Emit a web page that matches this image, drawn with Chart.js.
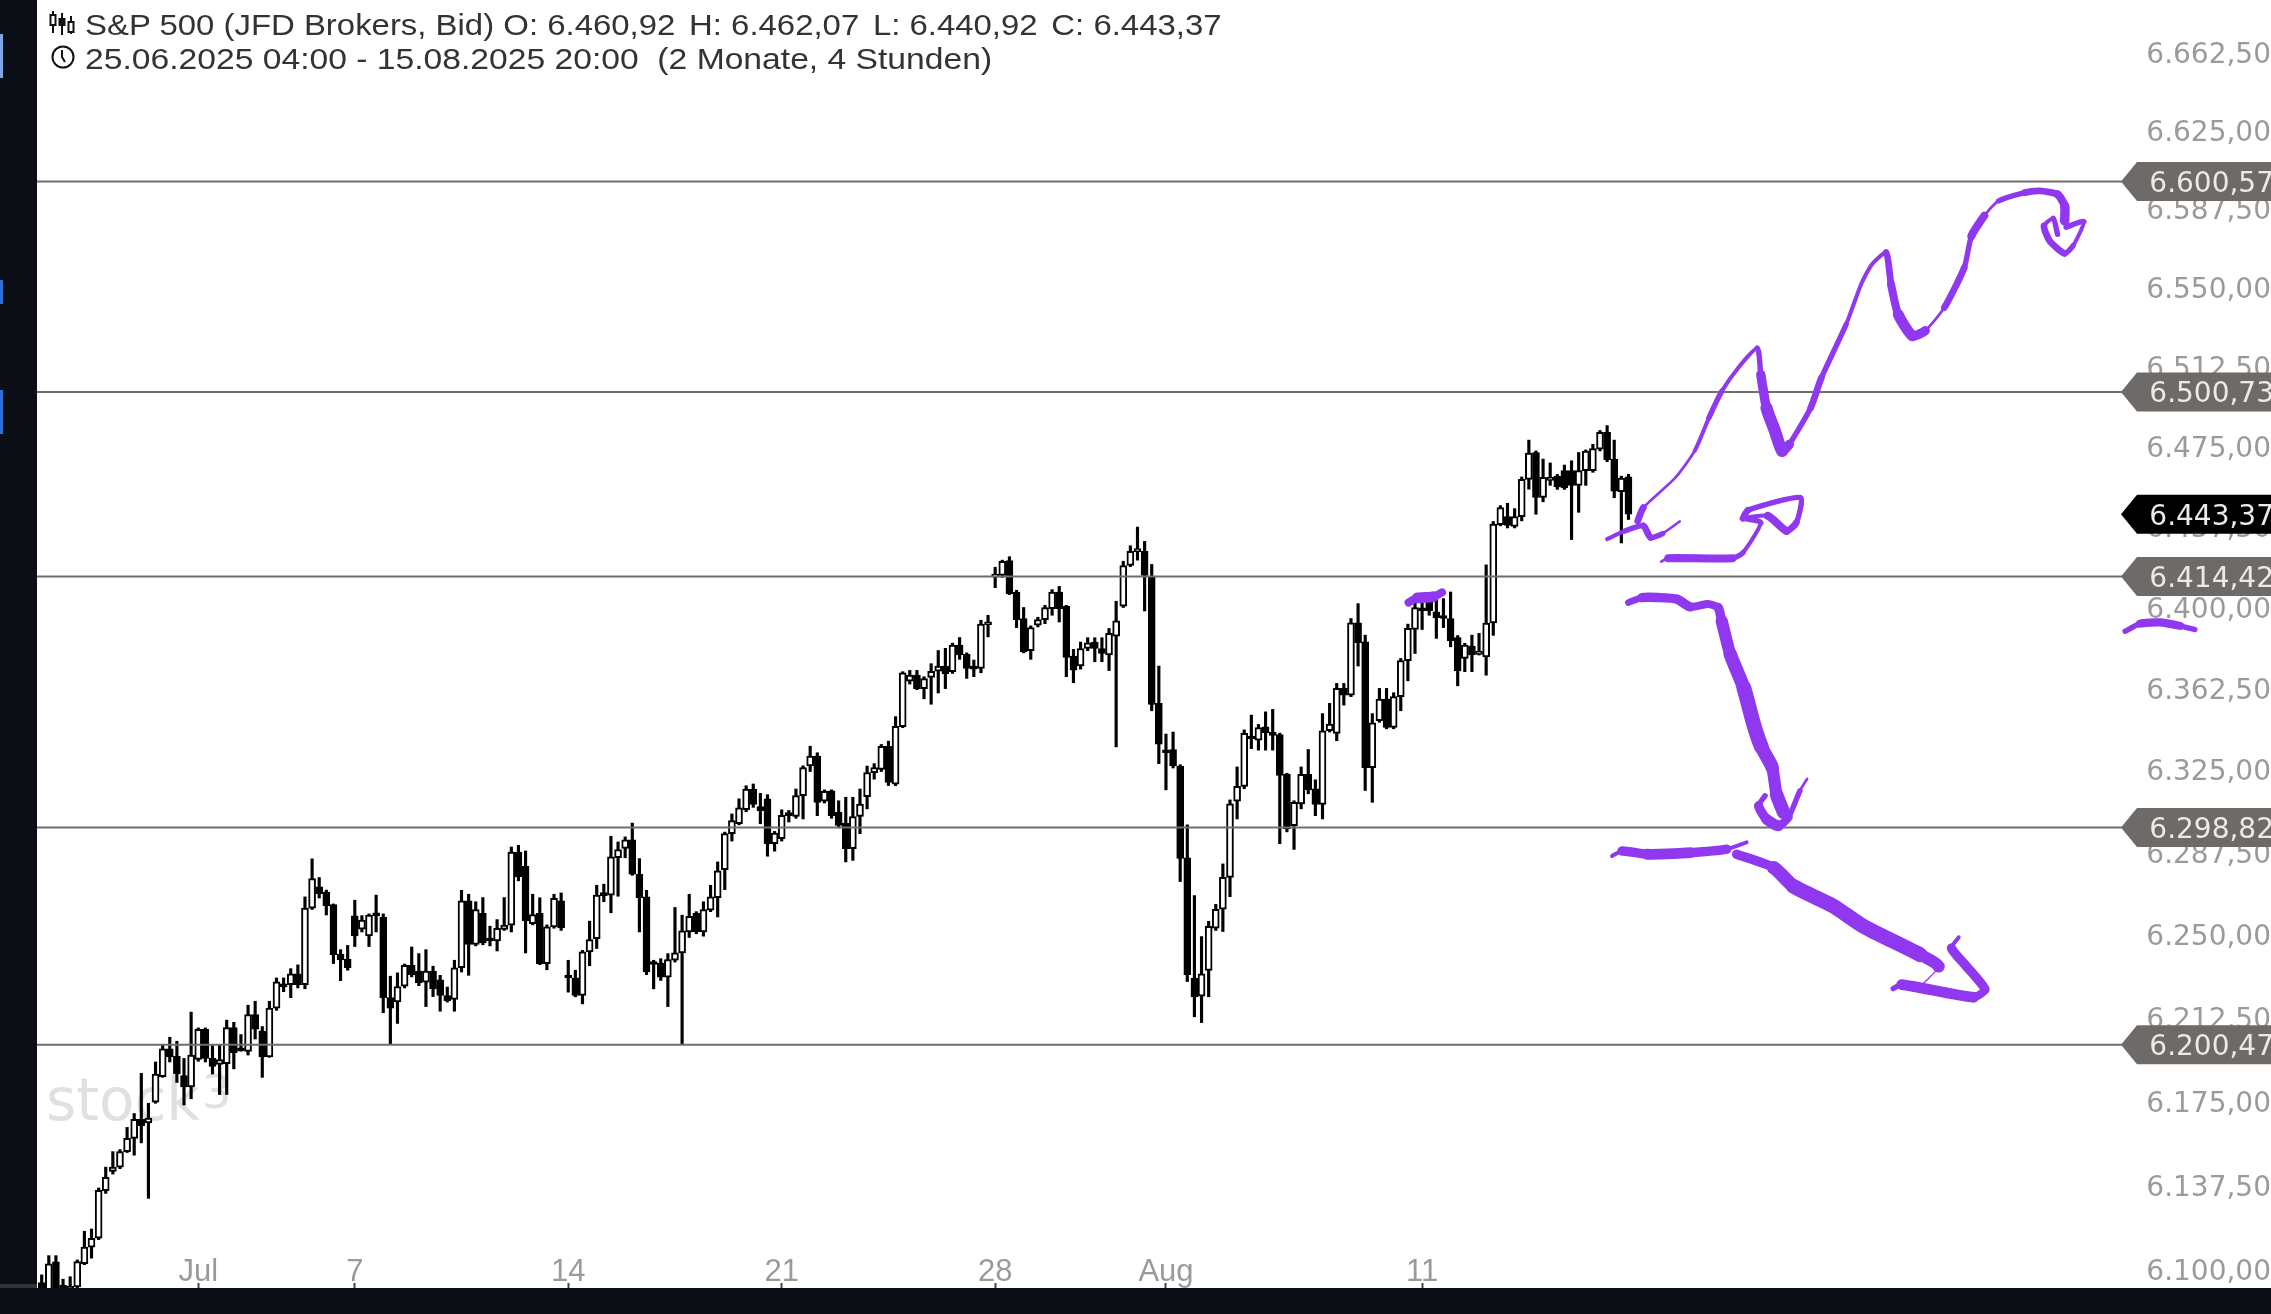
<!DOCTYPE html>
<html>
<head>
<meta charset="utf-8">
<title>S&amp;P 500</title>
<script src="https://cdn.jsdelivr.net/npm/chart.js@4"></script>
<style>
  html, body { margin: 0; padding: 0; width: 2271px; height: 1314px; overflow: hidden; background: #0b0e14; }
  #chart { position: absolute; left: 0; top: 0; }
  .head { position: absolute; left: 85px; font: 29px "Liberation Sans", sans-serif; color: #333; white-space: pre; transform-origin: left center; }
  .icon { position: absolute; left: 48px; }
  .mark { position: absolute; left: 0; width: 3px; background: #2f6fd6; }
</style>
</head>
<body>
<canvas id="chart" width="2271" height="1314"></canvas>
<div class="head" id="line1" style="top:9px;transform:scaleX(1.135)"></div>
<div class="head" id="line2" style="top:43px;transform:scaleX(1.16)"></div>
<svg class="icon" style="top:10px" width="28" height="26" viewBox="0 0 28 26" fill="none" stroke="#111" stroke-width="2">
  <path d="M5 1v22M14 3v22M23 6v18"/><rect x="2.5" y="5" width="5" height="10" fill="#fff"/><rect x="11.5" y="9" width="5" height="6" fill="#111"/><rect x="20.5" y="12" width="5" height="10" fill="#fff"/>
</svg>
<svg class="icon" style="top:44px;left:50px" width="26" height="26" viewBox="0 0 26 26" fill="none" stroke="#111" stroke-width="2">
  <circle cx="13" cy="13" r="10.5"/><path d="M12 6v7l3 5"/>
</svg>
<div class="mark" style="top:34px;height:44px;background:#7ea6e0"></div>
<div class="mark" style="top:280px;height:24px"></div>
<div class="mark" style="top:390px;height:44px"></div>
<div style="position:absolute;left:0;top:1284px;width:37px;height:4px;background:#30333a"></div>
<script>
const headerTop = "S&P 500 (JFD Brokers, Bid) O: 6.460,92\u2005\u2006H: 6.462,07\u2005\u2006L: 6.440,92\u2005\u2006C: 6.443,37";
const headerBottom = "25.06.2025 04:00 - 15.08.2025 20:00  (2 Monate, 4 Stunden)";

// 4h candles, one entry per bar
const opens = [
  6094.5,6089.4,6103.7,6090,6090.2,6092.6,6102.8,6110.2,6114.1,6135.2,
  6143.8,6145.7,6152.6,6158.5,6167,6165.4,6174.7,6186.1,6198.6,6195.3,
  6186.6,6181.5,6193.8,6207.4,6194.3,6191.6,6191.9,6208.1,6198.6,6197.4,
  6214,6206.6,6195,6216.9,6227.5,6227.5,6232.4,6227.5,6262.1,6271.8,
  6269.4,6263.7,6241.3,6239,6258.6,6252.6,6249.5,6259,6258,6221.6,
  6219.7,6226.8,6236.2,6233.6,6228.6,6233.6,6229.7,6222.6,6220.8,6235.1,
  6265.4,6245.7,6259.7,6247.8,6247.2,6252.5,6254.4,6287.6,6281.1,6255.1,
  6259.7,6237,6253.6,6265.4,6231.2,6230.6,6222.6,6242.3,6248.3,6268.2,
  6268,6285,6289.2,6293.2,6277.5,6267.2,6237.2,6237.2,6230.9,6238.5,
  6241.8,6251.3,6259.7,6251.3,6261.2,6266.9,6279.6,6296,6300.5,6306.9,
  6316.4,6308.3,6311.9,6291.4,6293.7,6304.5,6303.9,6313.3,6327,6331.5,
  6310.8,6315.6,6305.8,6300.8,6289.1,6303.8,6312.9,6323.9,6325.4,6336,
  6318.6,6345,6365.9,6368.7,6362.5,6367.7,6370.5,6372.9,6370.3,6382.6,
  6378.3,6372.2,6371.8,6392,6414.1,6414.9,6421.8,6407.2,6394.9,6380,
  6391.8,6394.4,6399.5,6407.2,6400.6,6377.5,6373,6381,6384,6381,
  6378,6386.7,6400.6,6419.5,6426,6426.1,6414.4,6355.7,6333.8,6334.5,
  6326.8,6285,6230.4,6222.3,6233.9,6253,6261.6,6276.1,6310.8,6317.6,
  6339.8,6338.8,6344.9,6341.6,6341.4,6323.1,6299.6,6309.6,6323.1,6316.5,
  6309.3,6343.1,6341.9,6362.6,6359.5,6392.9,6384.1,6326.2,6347.7,6357.7,
  6344.6,6358.8,6375.4,6389.8,6399,6402.6,6398,6395.6,6394.9,6386.1,
  6376.4,6382.1,6378.3,6377.1,6392.8,6438.5,6442.3,6437.7,6442.3,6459.7,
  6472.3,6451.2,6459.2,6461.2,6463.8,6463.8,6456.9,6463.8,6463.8,6473.8,
  6481.8,6469.2,6453.9,6460.92
];
const highs = [
  6097.9,6106.4,6106.4,6096,6097.1,6104.5,6117.2,6118.2,6136.4,6145.7,
  6152.6,6153.5,6163.4,6169.6,6187.6,6174.2,6192.7,6200.5,6203.8,6202,
  6194.3,6215.1,6208,6208,6200,6200.5,6211.5,6210.5,6205,6218.2,
  6220,6208.6,6220,6230.5,6230.5,6234.7,6236.4,6267.2,6284.5,6276,
  6270.3,6264,6243.3,6245.2,6265.7,6258.7,6259.5,6268,6259.5,6231.3,
  6232.8,6236.8,6244.5,6241.5,6243.3,6235.8,6231.7,6226.4,6238.5,6270.2,
  6268.4,6265,6266.9,6253.9,6256.9,6266.9,6289.9,6290.7,6288.1,6268.4,
  6266.8,6254.5,6268.4,6269,6238.5,6234,6243,6256.2,6272.5,6273,
  6294.8,6292.2,6294.5,6300.8,6284.6,6270.2,6238.5,6239.2,6241.5,6262.4,
  6258.9,6268.4,6260.5,6265,6272.5,6283.1,6296.7,6305,6311.9,6317.9,
  6318.7,6314.4,6313.8,6297,6306.9,6306.6,6316.4,6327,6336,6333,
  6316,6316,6311,6312.6,6312.6,6316.4,6326.9,6328,6336.8,6338.3,
  6349.6,6370.3,6370.9,6370.9,6368,6374,6380.1,6381.1,6383.5,6386.1,
  6379,6375.7,6394.1,6396.4,6418.7,6422,6423.6,6408,6400,6391.5,
  6395.5,6401,6408.3,6409.8,6401,6380.6,6384,6386,6386,6386,
  6390.3,6402.9,6421.5,6428.7,6437.4,6430.7,6420,6372.9,6341.6,6342.5,
  6327.5,6300,6267.8,6249.2,6256.1,6263.8,6282.2,6311.4,6326.5,6343.5,
  6350.3,6346,6351.8,6352.9,6342,6323.6,6311,6326.5,6334.5,6320.6,
  6351,6355.7,6364.9,6364.9,6394.9,6401.8,6387.2,6351,6362.6,6362.6,
  6360.6,6376.4,6392.3,6402,6403,6404,6404.1,6404.1,6407.2,6387,
  6383.4,6387.2,6388,6419.8,6440,6447.4,6448.5,6446,6460.8,6478.1,
  6473,6469.2,6467.4,6462,6466.4,6468.4,6472.3,6473.5,6476.1,6482.6,
  6484.9,6478.1,6461.2,6462.07
];
const lows = [
  6085,6085,6085,6086,6088,6092,6102.4,6105.3,6113.5,6134,
  6142.6,6145,6152.2,6151,6156.5,6131.8,6174.2,6185.8,6192.7,6183.5,
  6173.4,6176.2,6193,6192.7,6187.3,6178.1,6178.1,6189.6,6197.5,6195.8,
  6203,6185.8,6194.8,6215.9,6224.3,6221.6,6226,6225.6,6261.5,6266.7,
  6259,6237,6229.3,6234,6244.7,6251.3,6244.7,6251.3,6214.8,6200.7,
  6210,6226,6231,6227,6217.6,6222.1,6215.5,6219.6,6215.5,6233.2,
  6231.7,6245,6245.5,6245,6242.7,6252,6251.3,6274.5,6241.8,6254.5,
  6236.5,6234.2,6253,6252,6224.1,6222,6218.8,6236,6243.8,6265,
  6260,6267.5,6285,6277,6251.3,6232,6225.6,6229.4,6217.6,6237.7,
  6200.6,6248.8,6250.5,6249.4,6260.5,6258.1,6270.5,6292.6,6300,6306,
  6308,6300.5,6285.7,6288,6292.6,6301.3,6303,6302.7,6324.4,6304.2,
  6310,6303,6298.6,6283.1,6283.8,6296,6307.3,6320.9,6324.4,6318,
  6317.9,6344.5,6364.6,6362,6357.8,6355.3,6360.5,6362.5,6369.5,6376,
  6367.2,6368,6369.8,6386.4,6409.2,6414,6406,6390.7,6379,6376,
  6391,6392.5,6396.4,6393.3,6368,6365.2,6371.5,6380,6374.9,6374.9,
  6370.8,6335.7,6400,6419,6422,6398.4,6352.3,6328,6316,6326,
  6274.2,6228.9,6213,6210.4,6222,6252,6251.5,6267.3,6302.7,6316.5,
  6334.9,6334.2,6334.2,6334.2,6291.4,6296.8,6288.8,6307.3,6314.2,6304.2,
  6302.7,6342.5,6338.5,6354.9,6358.8,6372.9,6315.7,6310.3,6347,6344,
  6344,6352.3,6366.1,6378.7,6389.8,6396.4,6385.7,6390.7,6381.8,6363.8,
  6370.3,6370.3,6378,6368.7,6387.1,6438,6437,6437,6440.3,6455.1,
  6443.4,6449.2,6456.9,6455,6455,6431.6,6444.3,6456.9,6463,6473,
  6468,6451.1,6430,6440.92
];
const closes = [
  6090.2,6102.8,6089.4,6089.6,6093,6103.8,6110.2,6114.1,6135.4,6141.1,
  6145.7,6152.6,6158.5,6167,6164.2,6167.6,6187.3,6198.6,6195,6187.3,
  6181.5,6195.8,6207.4,6194.3,6190.7,6193.8,6208.1,6196.9,6197.7,6214,
  6207.4,6195,6216.9,6228.7,6226.5,6232.4,6227.5,6262.1,6275.5,6268.7,
  6263.2,6241,6238.7,6235.1,6249.5,6256.7,6259,6258.6,6221.6,6216.9,
  6226.6,6236.2,6232,6228.3,6233.6,6225.6,6222.6,6220.3,6235.1,6265.4,
  6245.7,6261.5,6246.3,6247.2,6252.9,6254.4,6287.6,6276.3,6256.3,6259.2,
  6237,6253.6,6266.5,6253.1,6230.5,6222.6,6242.3,6247.9,6268,6267.8,
  6285.4,6288.7,6293.2,6277.5,6266.9,6233.2,6236.6,6230.9,6238.8,6241.8,
  6251.8,6258.4,6251.3,6261.5,6267.2,6279,6296,6302,6307.8,6316.4,
  6309.3,6306.5,6291.4,6296.3,6304.3,6304.2,6313.4,6326.2,6331.5,6310.3,
  6315.3,6304.2,6299.7,6289.1,6303.8,6309.5,6323.9,6326.2,6336,6319.4,
  6345.1,6369.8,6368.7,6362.5,6367.1,6370.5,6372.9,6369.3,6382.6,6378,
  6371.8,6371.5,6392.3,6392.2,6414.9,6421.5,6406.4,6394.4,6379.5,6390.7,
  6394.4,6400,6407.2,6399.5,6376.9,6371,6381,6383.6,6381,6378.7,
  6388,6393.8,6419.5,6426.1,6426.2,6414.9,6355.2,6336.9,6333,6327,
  6284.7,6232,6222,6232.4,6253.9,6261.6,6276.1,6309.6,6317.6,6341.9,
  6339.3,6344.6,6342.2,6341,6322.6,6298.1,6310.3,6323.1,6316,6309.3,
  6343.1,6346.2,6362.6,6359.5,6392.9,6383.7,6326.2,6346.8,6357.7,6344.6,
  6358.8,6375.4,6390.3,6400,6398.5,6398.4,6395.3,6394.9,6384.6,6370.7,
  6382.6,6378,6378.3,6392.8,6438.8,6446.5,6438.2,6442.3,6459.7,6472,
  6451.2,6460.7,6460.7,6456.2,6455.7,6456.9,6463.8,6473,6474.1,6481.8,
  6468.9,6454.2,6460.3,6443.37
];

const priceTicks = [6662.5,6625,6587.5,6550,6512.5,6475,6437.5,6400,6362.5,6325,6287.5,6250,6212.5,6175,6137.5,6100];
const dateTicks = [22,44,74,104,134,158,194];
const dateLabels = ["Jul","7","14","21","28","Aug","11"];

const levels = [6600.57,6500.73,6414.42,6298.82,6200.47];
const lastPrice = 6443.37;

// freehand pen strokes, x in bars, y in price
const riseX = [224.3,225.1,229.6,232.3,234.3,236.1,238.6,241.1,241.6,242.4,243.6,244.6,245.6,248.6,250.1,253.6,255.7,257.2,259.2,259.9,260.9,262.9,264.7,267.4,270.2,271.2,273,275,278.7,280.8,283.3,284.3,284.3];
const riseY = [6440.3,6446.5,6460.5,6473,6488.5,6501,6512.9,6521.5,6508.9,6493.2,6482.2,6473,6476.1,6493.2,6507.3,6532.7,6551.7,6561.1,6566.7,6551.7,6537.5,6527.2,6529.6,6540.6,6559.6,6574.6,6584.2,6591.3,6595.3,6596.1,6594.5,6589,6581.8];
const riseW = [5,2,2,3,4,3,3,4,7,9,9,7,4,5,4,3,3,3,5,6,8,7,2,5,4,6,2,4,5,5,6,7];
const riseHeadX = [284.5,287,285.5,284.3,282.2,281.4,282.7,283.3];
const riseHeadY = [6578.8,6581.5,6570,6566.3,6572.2,6579.4,6583,6575.4];
const riseHeadW = [4,3,4,5,5,3,4];
const tickX = [220,222.5,225.1,226.1,227.8,230.2];
const tickY = [6431.8,6435.6,6438,6432.5,6434.4,6440];
const tickW = [3,4,5,4,2];
const boxX = [227.6,228.6,237.6,239.1,241.6,239.3,242.6,245.2,246.6,247.2,239.8,239.1];
const boxY = [6421.3,6422.9,6422.9,6425.5,6439.5,6441.5,6442.6,6435.6,6439.5,6451.2,6445.3,6441.5];
const boxW = [2,6,4,3,4,3,6,5,4,4,5];
const dropX = [223,224.9,227.2,229.8,231.7,234.2,235.6,236.1,237.3,239.2,240.6,241.7,243.2,243.8,244.8];
const dropY = [6402.3,6404.6,6404.6,6403.9,6400.3,6401.6,6400,6393.8,6378.4,6363,6346,6335.6,6326.2,6314.1,6305.7];
const dropW = [5,7,7,7,6,6,7,9,10,11,11,10,9,10];
const dropHeadX = [242.2,241.3,242.4,244.1,245.5,247.1,248.1];
const dropHeadY = [6313.3,6308.7,6302.6,6299.6,6303.4,6315.6,6321];
const dropHeadW = [4,7,8,6,4,2];
const flatX = [220.7,222.1,225.6,231.7,236.8,239.6];
const flatY = [6285.8,6288.1,6286.6,6287.3,6288.9,6292];
const flatW = [3,7,8,7,3];
const slideX = [238.2,243.4,246.2,251.8,256,264,266.6,264.5];
const slideY = [6286.6,6280.5,6272,6263,6253.9,6241,6235.7,6228.2];
const slideW = [7,10,11,11,11,9,1];
const slideHeadX = [260.2,261.4,271.5,273.1,270.3,268.4,269.4];
const slideHeadY = [6225.7,6227.5,6221.8,6225.3,6236.5,6244,6248.9];
const slideHeadW = [4,8,6,7,7,3];
const capX = [192.1,193.3,195.6,196.8];
const capY = [6402.3,6404.4,6405,6407];
const capW = [6,8,6];
const axisMarkX = [292.8,294.9,297.7,300.5,302.6];
const axisMarkY = [6389,6392.5,6393.1,6391.5,6389.8];
const axisMarkW = [4,6,6,4];

const strokes = [
  [riseX,riseY,riseW],[riseHeadX,riseHeadY,riseHeadW],[tickX,tickY,tickW],[boxX,boxY,boxW],
  [dropX,dropY,dropW],[dropHeadX,dropHeadY,dropHeadW],[flatX,flatY,flatW],[slideX,slideY,slideW],
  [slideHeadX,slideHeadY,slideHeadW],[capX,capY,capW],[axisMarkX,axisMarkY,axisMarkW]
];

document.getElementById("line1").textContent = headerTop;
document.getElementById("line2").textContent = headerBottom;

const fmt = v => v.toLocaleString("de-DE", { minimumFractionDigits: 2, maximumFractionDigits: 2 });

const datasets = [];

// wicks
datasets.push({
  type: "bar", order: 4, grouped: false, barThickness: 2.5,
  data: opens.map((o, i) => ({ x: i, y: [lows[i], highs[i]] })),
  backgroundColor: "#000", borderWidth: 0
});
// bodies
datasets.push({
  type: "bar", order: 3, grouped: false, barThickness: 7, minBarLength: 3,
  data: opens.map((o, i) => ({ x: i, y: [Math.min(o, closes[i]), Math.max(o, closes[i])] })),
  backgroundColor: opens.map((o, i) => closes[i] >= o ? "#fff" : "#000"),
  borderColor: "#000", borderWidth: 2, borderSkipped: false
});
// horizontal levels, they stop at the tag tip
levels.forEach(level => {
  datasets.push({
    type: "line", order: 2, borderColor: "#6e6e6e", borderWidth: 2, pointRadius: 0,
    data: [{ x: -0.66, y: level }, { x: 292.4, y: level }]
  });
});
strokes.forEach(([xs, ys, ws]) => {
  datasets.push({
    type: "line", order: 1, borderColor: "#9038f0", pointRadius: 0, tension: 0.2,
    borderCapStyle: "round", borderJoinStyle: "round", borderWidth: 4,
    data: xs.map((x, i) => ({ x: x, y: ys[i] })),
    segment: { borderWidth: ctx => (ws[ctx.p0DataIndex] || 2) * 1.35 }
  });
});

const paper = {
  id: "paper",
  beforeDraw(chart) {
    const { ctx, chartArea } = chart;
    ctx.save();
    ctx.fillStyle = "#fff";
    ctx.fillRect(chartArea.left, 0, chartArea.right - chartArea.left, chartArea.bottom);
    ctx.restore();
  },
  beforeDatasetsDraw(chart) {
    const ctx = chart.ctx;
    ctx.save();
    ctx.fillStyle = "#e0e0e0";
    ctx.textBaseline = "alphabetic";
    ctx.textAlign = "left";
    ctx.font = '58px "DejaVu Sans", sans-serif';
    ctx.fillText("stock", 46, 1120);
    ctx.font = '46px "DejaVu Sans", sans-serif';
    ctx.fillText("3", 202, 1108);
    ctx.restore();
  },
  afterDatasetsDraw(chart) {
    const { ctx, scales } = chart;
    const drawTag = (value, fill) => {
      const y = scales.y.getPixelForValue(value);
      ctx.fillStyle = fill;
      ctx.beginPath();
      ctx.moveTo(2121, y);
      ctx.lineTo(2137, y - 19.5);
      ctx.lineTo(2271, y - 19.5);
      ctx.lineTo(2271, y + 19.5);
      ctx.lineTo(2137, y + 19.5);
      ctx.closePath();
      ctx.fill();
      ctx.fillStyle = "#ece9e6";
      ctx.font = '28px "DejaVu Sans", sans-serif';
      ctx.textAlign = "right";
      ctx.textBaseline = "middle";
      ctx.fillText(fmt(value), 2274, y + 3);
    };
    ctx.save();
    levels.forEach(level => drawTag(level, "#6e6a67"));
    drawTag(lastPrice, "#000");
    ctx.restore();
  }
};

new Chart(document.getElementById("chart"), {
  type: "bar",
  data: { datasets: datasets },
  plugins: [paper],
  options: {
    responsive: false,
    animation: false,
    devicePixelRatio: 1,
    layout: { autoPadding: false, padding: { left: 37, right: 0, top: 0, bottom: 0 } },
    plugins: { legend: { display: false }, tooltip: { enabled: false } },
    scales: {
      x: {
        type: "linear",
        position: "bottom",
        offset: false,
        min: -0.66,
        max: 313.3,
        afterBuildTicks: s => { s.ticks = dateTicks.map(v => ({ value: v })); },
        afterFit: s => { s.height = 26; s.paddingLeft = 0; s.paddingRight = 0; },
        border: { display: false },
        grid: { offset: false, drawOnChartArea: false, drawTicks: true, tickLength: -5, tickColor: "#444", tickWidth: 2 },
        ticks: {
          autoSkip: false, maxRotation: 0, mirror: true, padding: -3, color: "#9a9a9a",
          font: { family: "Liberation Sans", size: 31 },
          callback: v => dateLabels[dateTicks.indexOf(v)]
        }
      },
      y: {
        type: "logarithmic",
        position: "right",
        bounds: "data",
        min: 6092.1,
        max: 6688,
        afterBuildTicks: s => { s.ticks = priceTicks.map(v => ({ value: v })); },
        afterFit: s => { s.width = 0; s.paddingTop = 0; s.paddingBottom = 0; },
        border: { display: false },
        grid: { display: false },
        ticks: {
          autoSkip: false, mirror: true, padding: 0, color: "#9a9a9a", labelOffset: 3,
          font: { family: "DejaVu Sans", size: 28 },
          callback: v => fmt(v)
        }
      }
    }
  }
});
</script>
</body>
</html>
